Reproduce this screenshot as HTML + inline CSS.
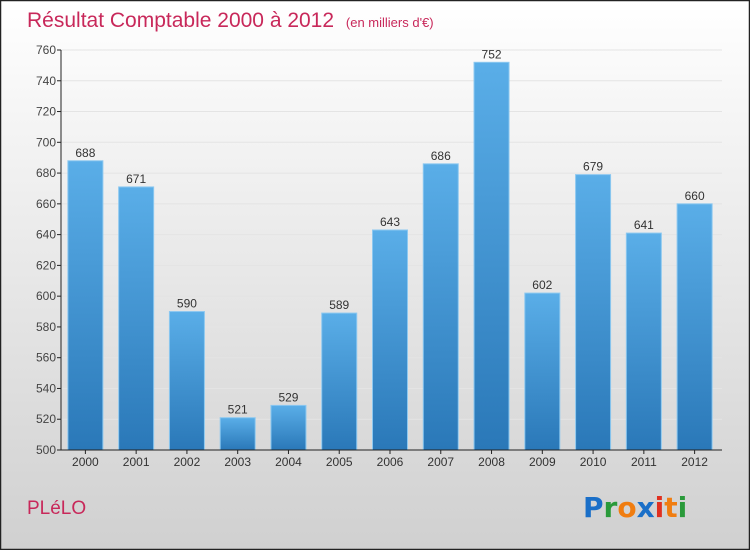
<!DOCTYPE html>
<html><head><meta charset="utf-8"><style>
body{margin:0}
#c{width:750px;height:550px;position:relative;overflow:hidden;font-family:"Liberation Sans",sans-serif}
</style></head><body>
<div id="c">
<svg width="750" height="550" xmlns="http://www.w3.org/2000/svg">
<defs>
<linearGradient id="bg" x1="0" y1="0" x2="0" y2="1"><stop offset="0" stop-color="#ffffff"/><stop offset="1" stop-color="#d0d0d0"/></linearGradient>
<linearGradient id="bar" x1="0" y1="0" x2="0" y2="1"><stop offset="0" stop-color="#5aaee8"/><stop offset="1" stop-color="#2a78b8"/></linearGradient>
</defs>
<rect x="0.5" y="0.5" width="749" height="549" fill="url(#bg)" stroke="#222" stroke-width="1.5"/>
<text x="27" y="27" font-size="21" fill="#c8285a">Résultat Comptable 2000 à 2012 <tspan font-size="13" dx="6">(en milliers d'€)</tspan></text>
<g id="grid"></g>
<g id="bars"></g>
<g id="axes"></g>
<text x="27" y="514" font-size="19" fill="#c8285a">PLéLO</text>
<g font-size="28" font-weight="bold" font-family="'DejaVu Sans',sans-serif">
<text x="583" y="517"><tspan fill="#1a6fc8">P</tspan><tspan fill="#2a9a3a">r</tspan><tspan fill="#f07d10">o</tspan><tspan fill="#1a6fc8">x</tspan><tspan fill="#e03020">i</tspan><tspan fill="#f07d10">t</tspan><tspan fill="#2a9a3a">i</tspan></text>
</g>
</svg>
</div>
<script>
const years=["2000","2001","2002","2003","2004","2005","2006","2007","2008","2009","2010","2011","2012"];
const values=[688,671,590,521,529,589,643,686,752,602,679,641,660];
const ticks=[500,520,540,560,580,600,620,640,660,680,700,720,740,760];
const NS="http://www.w3.org/2000/svg";
const x0=60,x1=720,axisX=61,axisEnd=722,yTop=50,yBot=450,vMin=500,vMax=760;
const step=(x1-x0)/years.length;
function y(v){return yBot-(v-vMin)/(vMax-vMin)*(yBot-yTop);}
function xc(i){return x0+step*(i+0.5);}
function mk(t,a,p){const e=document.createElementNS(NS,t);for(const k in a)e.setAttribute(k,a[k]);p.appendChild(e);return e;}
const bars=document.getElementById('bars'),axes=document.getElementById('axes'),grid=document.getElementById('grid');
ticks.forEach(t=>{
 const g=mk('line',{x1:axisX,x2:axisEnd,y1:y(t),y2:y(t),stroke:'#e4e4e4','stroke-width':1},grid);
 
 
 const l=mk('line',{x1:axisX-4,x2:axisX,y1:y(t),y2:y(t),stroke:'#222'},axes);
 
 
 const tx=mk('text',{x:axisX-5,y:y(t)+4,'text-anchor':'end','font-size':12,fill:'#444'},axes);
 tx.textContent=t;
 
 
});
values.forEach((v,i)=>{
 const w=35,cx=xc(i);
 const r=mk('rect',{x:cx-w/2,y:y(v),width:w,height:yBot-y(v),fill:'url(#bar)',stroke:'#8cc8f0','stroke-width':1},bars);
 
 
 const t=mk('text',{x:cx,y:y(v)-4,'text-anchor':'middle','font-size':12,fill:'#333'},bars);
 t.textContent=v;
 
 
 const tk=mk('line',{x1:cx,x2:cx,y1:yBot,y2:yBot+4,stroke:'#222'},axes);
 
 
 const xl=mk('text',{x:cx,y:yBot+16,'text-anchor':'middle','font-size':12,fill:'#333'},axes);
 xl.textContent=years[i];
 
 
});
const ya=mk('line',{x1:axisX,x2:axisX,y1:yTop,y2:yBot,stroke:'#222'},axes);


const xa=mk('line',{x1:axisX,x2:axisEnd,y1:yBot,y2:yBot,stroke:'#222'},axes);


</script>
</body></html>
